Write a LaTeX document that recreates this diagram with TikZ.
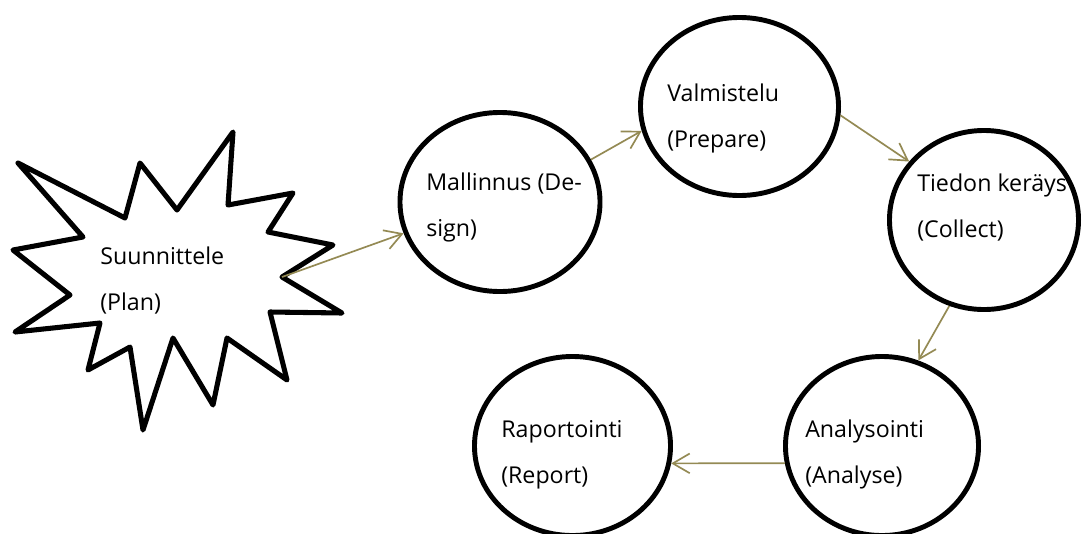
\documentclass[tikz,border=0pt]{standalone}
\usepackage{fontspec}
\setmainfont{Open Sans}
\usetikzlibrary{arrows.meta,shapes.geometric}
\definecolor{arrowtan}{RGB}{148,138,84}
\tikzset{
  stage/.style={draw, ellipse, line width=3.5pt, inner sep=0pt},
  burst/.style={draw, line width=3.6pt, line join=round},
  txt/.style={anchor=base west, align=left, inner sep=0pt,
              font=\fontsize{16.5}{32.6}\selectfont},
  flow/.style={-{Straight Barb[length=12pt,width=14pt]}, line width=1.2pt, arrowtan},
}

\begin{document}
\begin{tikzpicture}[x=0.025cm, y=-0.025cm]
  \useasboundingbox (0,0) rectangle (1082,533);
  % plan: starburst
  \draw[burst] (18,163) -- (125,218) -- (140,163) -- (177,210) -- (233,132)
    -- (228,205) -- (293,193) -- (268,232) -- (333,245)
    -- (282,277) coordinate (plan) -- (342,313) -- (270,312) -- (287,380)
    -- (227,338) -- (213,405) -- (173,338) -- (143,430) -- (130,347)
    -- (88,370) -- (100,323) -- (15,332) -- (70,295) -- (13,250)
    -- (83,237) -- cycle;
  \node[txt] (plan-t) at (100,310) {Suunnittele\\(Plan)};
  % stages
  \node[stage, minimum width=5cm, minimum height=4.475cm] (design) at (500,202) {};
  \node[stage, minimum width=4.95cm, minimum height=4.45cm] (prepare) at (739.5,106.5) {};
  \node[stage, minimum width=4.725cm, minimum height=4.475cm] (collect) at (984,220) {};
  \node[stage, minimum width=4.825cm, minimum height=4.475cm] (analyse) at (882,446) {};
  \node[stage, minimum width=4.9cm, minimum height=4.475cm] (report) at (572.5,446) {};
  \node[txt] (design-t) at (426,236) {Mallinnus (De-\\sign)};
  \node[txt] (prepare-t) at (667,147) {Valmistelu\\(Prepare)};
  \node[txt] (collect-t) at (917,237) {Tiedon keräys\\(Collect)};
  \node[txt] (analyse-t) at (805,483) {Analysointi\\(Analyse)};
  \node[txt] (report-t) at (501,483) {Raportointi\\(Report)};
  % arrows
  \draw[flow] (plan) -- (design.198);
  \draw[flow] (design.25) -- (prepare.194);
  \draw[flow] (prepare.-5) -- (collect.142);
  \draw[flow] (collect.248) -- (analyse.67);
  \draw[flow] (analyse.190) -- (report.-10);
\end{tikzpicture}
\end{document}
